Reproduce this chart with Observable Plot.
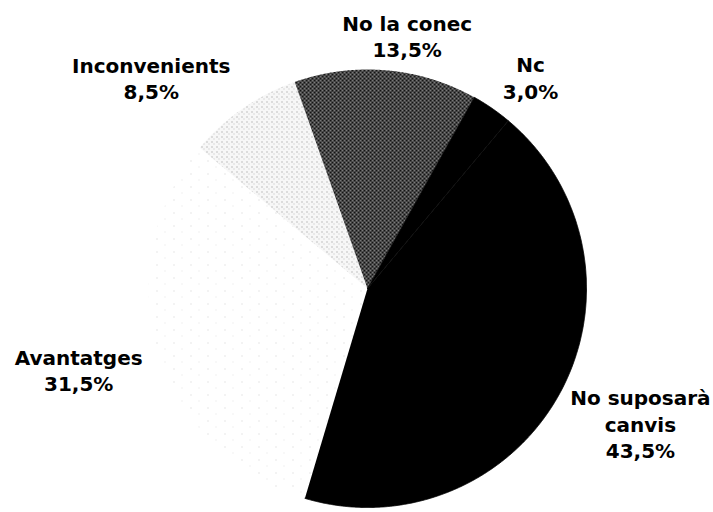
<!DOCTYPE html>
<html>
<head>
<meta charset="utf-8">
<script src="https://cdn.jsdelivr.net/npm/d3@7"></script>
<script src="https://cdn.jsdelivr.net/npm/@observablehq/plot@0.6"></script>
<style>
  html, body { margin: 0; padding: 0; background: #fff; }
  #chart svg { display: block; }
</style>
</head>
<body>
<div id="chart"></div>
<script>
// ---- data ----
const categories = ["Avantatges", "Inconvenients", "No la conec", "Nc", "No suposarà canvis"];
const values = [31.5, 8.5, 13.5, 3.0, 43.5];
const valueLabels = ["31,5%", "8,5%", "13,5%", "3,0%", "43,5%"];

// ---- styling / layout ----
const W = 713, H = 512;
const cx = 367, cy = 288, R = 219;
const startDeg = 196.6; // first slice starts here, clockwise from 12 o'clock
const fills = ["url(#pAv)", "url(#pInc)", "url(#pCon)", "#000", "#000"];
const strokes = ["none", "none", "none", "#000", "#000"];
// label placement: angle shift (deg) from slice mid-angle, radius factor
const labelNudge = [[1, 1.37], [-11, 1.38], [4, 1.17], [3, 1.22], [-2, 1.39]];

const rad = d3.pie().sort(null).startAngle(startDeg * Math.PI / 180)
  .endAngle(startDeg * Math.PI / 180 + 2 * Math.PI)(values);

const slicePts = [];
rad.forEach((a, i) => {
  slicePts.push({k: categories[i], f: fills[i], s: strokes[i], x: 0, y: 0});
  const n = Math.max(2, Math.ceil((a.endAngle - a.startAngle) / 0.005));
  for (let j = 0; j <= n; j++) {
    const t = a.startAngle + (a.endAngle - a.startAngle) * j / n;
    slicePts.push({k: categories[i], f: fills[i], s: strokes[i], x: Math.sin(t), y: Math.cos(t)});
  }
});

const labels = rad.map((a, i) => {
  const mid = (a.startAngle + a.endAngle) / 2 + labelNudge[i][0] * Math.PI / 180;
  const r = labelNudge[i][1];
  const name = categories[i].length > 14 ? categories[i].replace(/ (\S+)$/, "\n$1") : categories[i];
  return {x: Math.sin(mid) * r, y: Math.cos(mid) * r, text: name + "\n" + valueLabels[i]};
});

const svg = Plot.plot({
  width: W, height: H,
  margin: 0,
  x: {domain: [-1, 1], range: [cx - R, cx + R], axis: null},
  y: {domain: [-1, 1], range: [cy + R, cy - R], axis: null},
  color: {type: "identity"},
  style: {background: "#fff", overflow: "visible"},
  marks: [
    Plot.line(slicePts, {x: "x", y: "y", z: "k", fill: "f", stroke: "s", strokeWidth: 0.8, strokeLinejoin: "round"}),
    Plot.text(labels, {
      x: "x", y: "y", text: "text",
      fontFamily: "DejaVu Sans", fontWeight: "bold", fontSize: 20,
      lineHeight: 1.33, fill: "#000", textAnchor: "middle", lineAnchor: "middle"
    })
  ]
});

svg.insertAdjacentHTML("afterbegin", `
<defs>
  <pattern id="pAv" width="17" height="13" patternUnits="userSpaceOnUse">
    <rect width="17" height="13" fill="#fff"/>
    <rect x="3" y="4" width="1" height="1" fill="#d0d0d0"/>
    <rect x="11" y="10" width="1" height="1" fill="#e2e2e2"/>
  </pattern>
  <pattern id="pInc" width="5" height="5" patternUnits="userSpaceOnUse">
    <rect width="5" height="5" fill="#f7f7f7"/>
    <rect x="1" y="1" width="1" height="1" fill="#8a8a8a"/>
    <rect x="3" y="3" width="1" height="1" fill="#c0c0c0"/>
  </pattern>
  <pattern id="pCon" width="4" height="4" patternUnits="userSpaceOnUse">
    <rect width="4" height="4" fill="#141414"/>
    <rect x="0" y="0" width="1" height="1" fill="#fff"/>
    <rect x="2" y="1" width="1" height="1" fill="#d8d8d8"/>
    <rect x="1" y="2" width="1" height="1" fill="#eee"/>
    <rect x="3" y="3" width="1" height="1" fill="#bbb"/>
  </pattern>
</defs>`);

document.getElementById("chart").appendChild(svg);
</script>
</body>
</html>
